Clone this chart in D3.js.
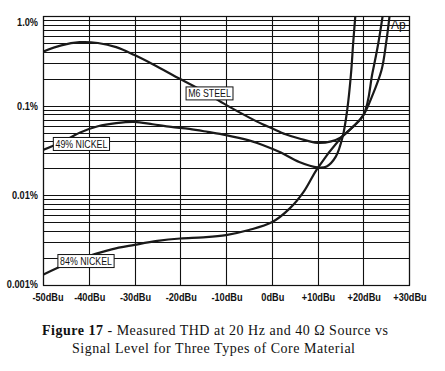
<!DOCTYPE html>
<html lang="en">
<head>
<meta charset="UTF-8">
<title>Figure 17 - THD vs Signal Level</title>
<script src="https://d3js.org/d3.v7.min.js"></script>
<style>
  body { margin: 0; padding: 0; background: #fff; }
  .tick-label { font-family: 'Liberation Sans', Arial, sans-serif; font-size: 11.5px; font-weight: bold; fill: #111; }
  .curve-label { font-family: 'Liberation Sans', Arial, sans-serif; font-size: 11px; fill: #111; }
  .caption { font-family: 'Liberation Serif', 'Times New Roman', serif; font-size: 14px; fill: #111; }
</style>
</head>
<body>
<script>
// tick values and labels
const xTicks = [-50, -40, -30, -20, -10, 0, 10, 20, 30];
const xLabels = ["-50dBu", "-40dBu", "-30dBu", "-20dBu", "-10dBu", "0dBu", "+10dBu", "+20dBu", "+30dBu"];
const yTicks = [1, 0.1, 0.01, 0.001];
const yLabels = ["1.0%", "0.1%", "0.01%", "0.001%"];

// M6 steel (dBu, THD %)
const m6Level = [-50, -46, -42, -38, -34, -30, -26, -20, -15, -10, -5, -2, 0, 3, 6, 10, 13, 15, 18, 20, 22, 24, 25, 25.8];
const m6Thd   = [0.40, 0.47, 0.51, 0.50, 0.45, 0.367, 0.29, 0.198, 0.145, 0.102, 0.074, 0.062, 0.056, 0.048, 0.043, 0.0385, 0.040, 0.044, 0.060, 0.078, 0.13, 0.25, 0.5, 1.05];

// 49% nickel
const n49Level = [-50, -46, -42, -38, -34, -30, -26, -22, -18, -14, -10, -5, -2, 2, 6, 10, 12, 14, 15.5, 16.5, 17.3, 17.8, 18.3];
const n49Thd   = [0.032, 0.039, 0.050, 0.059, 0.064, 0.066, 0.062, 0.058, 0.055, 0.051, 0.047, 0.041, 0.0365, 0.030, 0.0236, 0.0205, 0.021, 0.027, 0.045, 0.09, 0.22, 0.5, 1.05];

// 84% nickel
const n84Level = [-50, -45, -40, -35, -30, -25, -20, -15, -10, -5, 0, 4, 7, 10, 15, 20, 22, 23.3, 24.3];
const n84Thd   = [0.0013, 0.0017, 0.0021, 0.0025, 0.0028, 0.0031, 0.0033, 0.0034, 0.0036, 0.0041, 0.005, 0.0072, 0.011, 0.0200, 0.043, 0.078, 0.23, 0.5, 1.05];

// curve labels (centre in data units)
const curveNames = ["M6 STEEL", "49% NICKEL", "84% NICKEL"];
const labelLevel = [-13.6, -41.6, -40.6];
const labelThd = [0.137, 0.0374, 0.00185];

const W = 445, H = 371;
const margin = { left: 43, right: 36, top: 16, bottom: 86 };
const narrow = 0.8; // condensed look for the sans labels

const svg = d3.select("body").append("svg")
    .attr("width", W).attr("height", H);

const x = d3.scaleLinear().domain([-50, 30]).range([margin.left, W - margin.right]);
const y = d3.scaleLog().domain([0.001, 1]).range([H - margin.bottom, margin.top]);

// grid: log minor lines
const gridY = [];
[0.001, 0.01, 0.1].forEach(d => { for (let k = 1; k <= 9; k++) gridY.push(k * d); });
gridY.push(1);

const grid = svg.append("g").attr("stroke", "#111").attr("stroke-width", 1.1);
grid.selectAll("line.h").data(gridY).enter().append("line")
    .attr("x1", x(-50)).attr("x2", x(30))
    .attr("y1", d => Math.round(y(d)) + 0.5).attr("y2", d => Math.round(y(d)) + 0.5);
grid.selectAll("line.v").data(xTicks).enter().append("line")
    .attr("x1", d => Math.round(x(d)) + 0.5).attr("x2", d => Math.round(x(d)) + 0.5)
    .attr("y1", y(1)).attr("y2", y(0.001));

// clip for curves
svg.append("clipPath").attr("id", "plot").append("rect")
    .attr("x", x(-50)).attr("y", y(1))
    .attr("width", x(30) - x(-50)).attr("height", y(0.001) - y(1));

const line = d3.line()
    .x(d => x(d[0])).y(d => y(d[1]))
    .curve(d3.curveCatmullRom.alpha(0.5));

const series = [
  d3.zip(m6Level, m6Thd),
  d3.zip(n49Level, n49Thd),
  d3.zip(n84Level, n84Thd)
];

svg.append("g").attr("clip-path", "url(#plot)")
  .selectAll("path").data(series).enter().append("path")
    .attr("d", line)
    .attr("fill", "none")
    .attr("stroke", "#1a1a1a")
    .attr("stroke-width", 2.2);

// curve labels with boxes
const lab = svg.append("g").selectAll("g").data(curveNames).enter().append("g")
    .attr("transform", (d, i) => `translate(${x(labelLevel[i])},${y(labelThd[i])})`);
lab.append("text").attr("class", "curve-label")
    .attr("text-anchor", "middle").attr("dy", "0.36em")
    .attr("transform", `scale(${narrow},1)`)
    .text(d => d);
lab.each(function () {
  const g = d3.select(this);
  const bb = g.select("text").node().getBBox();
  const w = bb.width * narrow;
  g.insert("rect", "text")
    .attr("x", -w / 2 - 2).attr("y", -6.5)
    .attr("width", w + 4).attr("height", 13)
    .attr("fill", "#fff").attr("stroke", "#111").attr("stroke-width", 1);
});

// axis labels
svg.append("g").selectAll("text").data(xTicks).enter().append("text")
    .attr("class", "tick-label")
    .attr("transform", (d, i) => `translate(${x(d) + (i === 0 ? 5 : 1)},${H - margin.bottom + 16}) scale(${narrow},1)`)
    .attr("text-anchor", "middle")
    .text((d, i) => xLabels[i]);

svg.append("g").selectAll("text").data(yTicks).enter().append("text")
    .attr("class", "tick-label")
    .attr("transform", (d, i) => `translate(${margin.left - 5},${y(d) + (i === 0 ? 6 : i === 3 ? -1 : 0)}) scale(${narrow},1)`)
    .attr("dy", "0.35em")
    .attr("text-anchor", "end")
    .text((d, i) => yLabels[i]);

// frame
svg.append("rect")
    .attr("x", x(-50) + 0.5).attr("y", y(1) + 0.5)
    .attr("width", x(30) - x(-50)).attr("height", y(0.001) - y(1))
    .attr("fill", "none").attr("stroke", "#111").attr("stroke-width", 1.2);

// Audio Precision mark
svg.append("text")
    .attr("x", x(30) - 18).attr("y", y(1) + 13)
    .attr("font-family", "'Liberation Sans', sans-serif")
    .attr("font-size", 12).attr("fill", "#111")
    .text("Ap");

// caption
const cap1 = svg.append("text").attr("class", "caption")
    .attr("x", 42).attr("y", 335)
    .attr("textLength", 346).attr("lengthAdjust", "spacing");
cap1.append("tspan").attr("font-weight", "bold").text("Figure 17");
cap1.append("tspan").text(" - Measured THD at 20 Hz and 40 \u03A9 Source vs");

svg.append("text").attr("class", "caption")
    .attr("x", 72).attr("y", 353)
    .attr("textLength", 283).attr("lengthAdjust", "spacing")
    .text("Signal Level for Three Types of Core Material");
</script>
</body>
</html>
